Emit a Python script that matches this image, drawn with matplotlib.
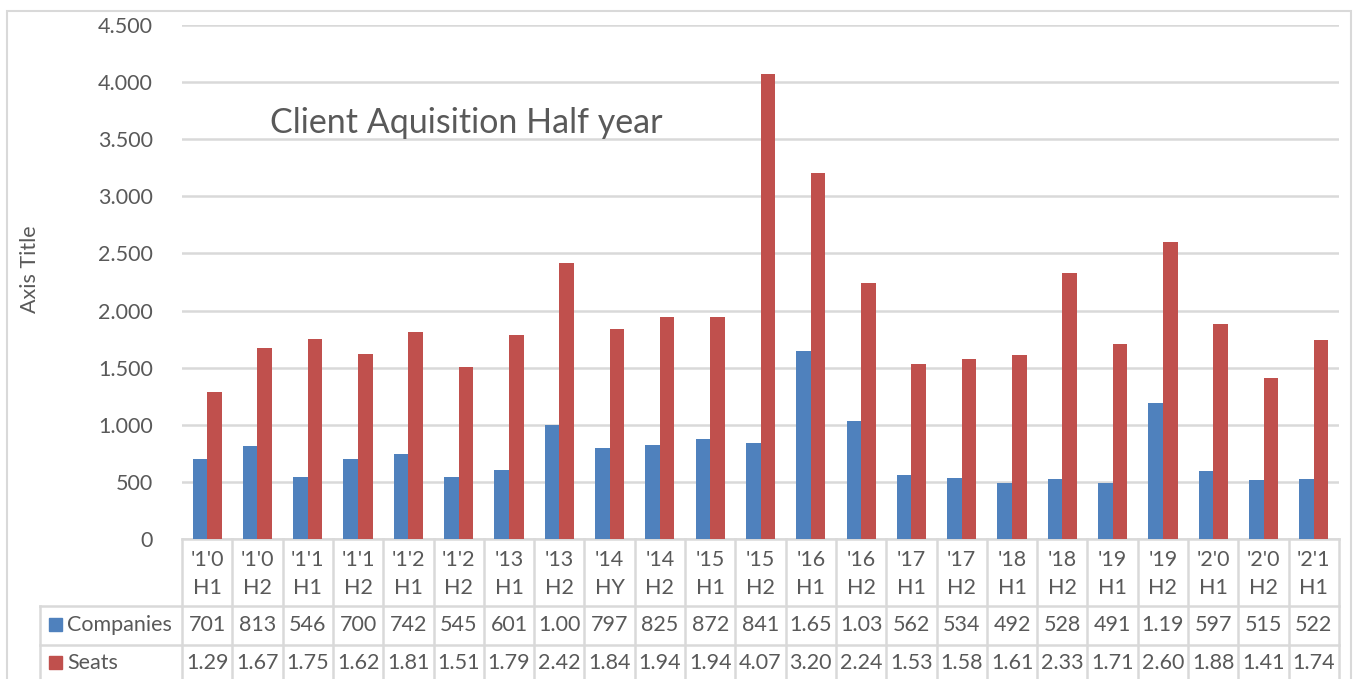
import numpy as np
import matplotlib
matplotlib.use("Agg")
from matplotlib import pyplot as plt
from matplotlib.transforms import blended_transform_factory
from matplotlib.patches import Rectangle

# data
periods = ["'1'0\nH1", "'1'0\nH2", "'1'1\nH1", "'1'1\nH2", "'1'2\nH1", "'1'2\nH2",
           "'13\nH1", "'13\nH2", "'14\nHY", "'14\nH2", "'15\nH1", "'15\nH2",
           "'16\nH1", "'16\nH2", "'17\nH1", "'17\nH2", "'18\nH1", "'18\nH2",
           "'19\nH1", "'19\nH2", "'2'0\nH1", "'2'0\nH2", "'2'1\nH1"]
companies = [701, 813, 546, 700, 742, 545, 601, 1000, 797, 825, 872, 841,
             1650, 1030, 562, 534, 492, 528, 491, 1195, 597, 515, 522]
seats = [1290, 1670, 1750, 1620, 1810, 1510, 1790, 2420, 1840, 1940, 1940, 4070,
         3200, 2240, 1530, 1580, 1610, 2330, 1710, 2600, 1880, 1410, 1740]
series_names = ["Companies", "Seats"]
yticks = [0, 500, 1000, 1500, 2000, 2500, 3000, 3500, 4000, 4500]

blue = "#4F81BD"
red = "#C0504D"
grey_txt = "#595959"
line_c = "#D9D9D9"
fs = 15.5

plt.rcParams["font.family"] = ["Lato", "DejaVu Sans"]


def fmt(v):
    # thousands with a dot, cut to 4 chars like the cramped table cells
    return f"{v:,.0f}".replace(",", ".")[:4]


fig = plt.figure(figsize=(13.53, 6.79), dpi=100)
W, H = 1353, 679
# axes placed in pixel terms
ax = fig.add_axes([182 / W, 140 / H, (1339 - 182) / W, (654 - 140) / H])

x = np.arange(len(periods))
bw = 0.29
ax.bar(x - bw / 2, companies, width=bw, color=blue, zorder=3)
ax.bar(x + bw / 2, seats, width=bw, color=red, zorder=3)

ax.set_xlim(-0.5, len(periods) - 0.5)
ax.set_ylim(0, 4500)
ax.set_yticks(yticks)
ax.set_yticklabels([f"{v:,.0f}".replace(",", ".") for v in yticks])
ax.tick_params(axis="y", length=0, pad=21, labelsize=fs, labelcolor=grey_txt)
ax.set_xticks([])
ax.grid(axis="y", color=line_c, linewidth=1.8, zorder=0)
for s in ax.spines.values():
    s.set_visible(False)

# title inside the plot
fig.text(270 / W, 1 - 123 / H, "Client Aquisition Half year", fontsize=24.5,
         color=grey_txt, va="center", ha="left")
# axis title
fig.text(30 / W, 1 - 269 / H, "Axis Title", rotation=90, fontsize=fs,
         color=grey_txt, va="center", ha="center")

# data table under the chart
tr = blended_transform_factory(ax.transData, fig.transFigure)
y_top = 140 / H
y_cat = 73 / H
y_comp = 34 / H
y_bot = 0.0

ax.plot([-0.5, len(periods) - 0.5], [y_top, y_top], color=line_c, lw=1.8,
        transform=tr, clip_on=False)
for yy in [y_cat, y_comp]:
    fig.add_artist(plt.Line2D([40 / W, 1339 / W], [yy, yy], color=line_c, lw=1.8))
fig.add_artist(plt.Line2D([40 / W, 40 / W], [y_bot, y_cat], color=line_c, lw=1.8))
for i in range(len(periods) + 1):
    ax.plot([i - 0.5, i - 0.5], [y_bot, y_top], color=line_c, lw=1.8,
            transform=tr, clip_on=False)

for i, (p, c, s) in enumerate(zip(periods, companies, seats)):
    ax.text(i, 1 - 574 / H, p, transform=tr, ha="center", va="center",
            fontsize=fs, color=grey_txt, linespacing=1.55)
    ax.text(i, 1 - 625 / H, fmt(c), transform=tr, ha="center", va="center",
            fontsize=fs, color=grey_txt)
    ax.text(i, 1 - 663 / H, fmt(s), transform=tr, ha="center", va="center",
            fontsize=fs, color=grey_txt)

for name, col, yy in zip(series_names, [blue, red], [625, 663]):
    fig.add_artist(Rectangle((49 / W, 1 - (yy + 6) / H), 13 / W, 13 / H,
                             color=col, transform=fig.transFigure))
    fig.text(67 / W, 1 - yy / H, name, fontsize=fs, color=grey_txt,
             va="center", ha="left")

# outer chart frame
fig.add_artist(Rectangle((7 / W, -0.01), (1351 - 7) / W, 1 - 11 / H + 0.01,
                         fill=False, edgecolor=line_c, lw=1.5,
                         transform=fig.transFigure))

plt.savefig("out.png", dpi=100)
